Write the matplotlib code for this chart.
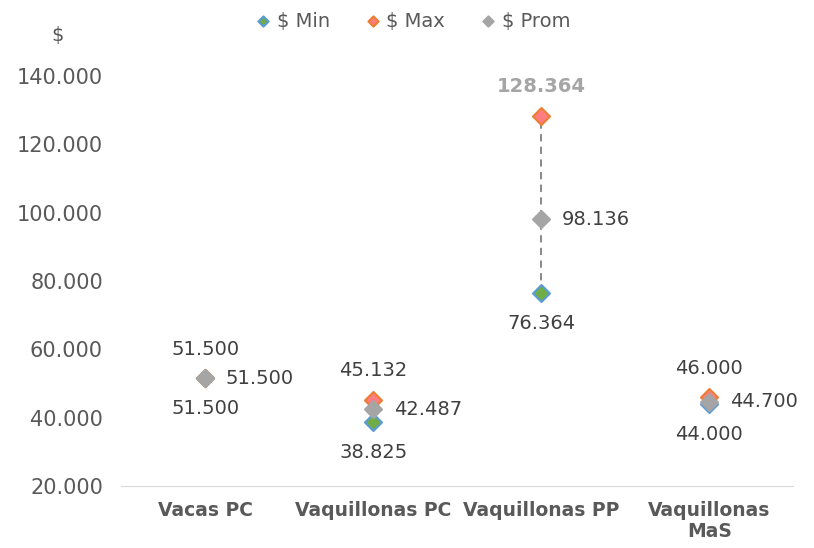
import matplotlib
matplotlib.use("Agg")
import matplotlib.pyplot as plt
from matplotlib.ticker import FuncFormatter

plt.rcParams['font.family'] = ['DejaVu Sans']

# datos
categorias = ["Vacas PC", "Vaquillonas PC", "Vaquillonas PP", "Vaquillonas\nMaS"]
precio_min = [51500, 38825, 76364, 44000]
precio_max = [51500, 45132, 128364, 46000]
precio_prom = [51500, 42487, 98136, 44700]

gris = '#595959'


def miles(v):
    return f"{v:,.0f}".replace(",", ".")


fig = plt.figure(figsize=(8.14, 5.48), dpi=100)
ax = fig.add_axes([0.1487, 0.1131, 0.826, 0.7482])

x = list(range(len(categorias)))

# lineas max-min
ax.vlines(x, precio_min, precio_max, colors='#7f7f7f', linestyles=(0, (4, 3)), linewidth=1.3, zorder=1)

ax.scatter(x, precio_min, marker='D', s=75, facecolor='#70AD47', edgecolor='#5B9BD5', linewidth=1.5,
           zorder=3, label='$ Min')
ax.scatter(x, precio_max, marker='D', s=75, facecolor='#FF7C80', edgecolor='#ED7D31', linewidth=1.5,
           zorder=3, label='$ Max')
ax.scatter(x, precio_prom, marker='D', s=75, facecolor='#A5A5A5', edgecolor='#A5A5A5', linewidth=1.5,
           zorder=4, label='$ Prom')

for i in x:
    ax.annotate(miles(precio_min[i]), (i, precio_min[i]), xytext=(0, -22), textcoords='offset points',
                ha='center', va='center', fontsize=14, color='#404040')
    destacado = precio_max[i] > 100000
    ax.annotate(miles(precio_max[i]), (i, precio_max[i]), xytext=(0, 21), textcoords='offset points',
                ha='center', va='center', fontsize=14,
                color='#A5A5A5' if destacado else '#404040',
                fontweight='bold' if destacado else 'normal', annotation_clip=False)
    ax.annotate(miles(precio_prom[i]), (i, precio_prom[i]), xytext=(15, 0), textcoords='offset points',
                ha='left', va='center', fontsize=14, color='#404040')

ax.set_xlim(-0.5, len(categorias) - 0.5)
ax.set_ylim(20000, 140000)
ax.set_yticks(range(20000, 140001, 20000))
ax.yaxis.set_major_formatter(FuncFormatter(lambda v, p: miles(v)))
ax.set_xticks(x)
ax.set_xticklabels(categorias, fontweight='bold', fontsize=13.5, color=gris, linespacing=1.1)
ax.tick_params(axis='y', length=0, labelsize=15, labelcolor=gris, pad=13)
ax.tick_params(axis='x', length=0, pad=11)
for lado in ['top', 'right', 'left']:
    ax.spines[lado].set_visible(False)
ax.spines['bottom'].set_color('#d9d9d9')

fig.text(58 / 814, 1 - 36 / 548, '$', fontsize=14, color=gris, ha='center', va='center')

ax.legend(loc='center', bbox_to_anchor=(0.5, 1 - 21 / 548), bbox_transform=fig.transFigure, ncol=3,
          frameon=False, fontsize=14, labelcolor=gris, handletextpad=-0.3, columnspacing=1.2,
          markerscale=0.6, borderaxespad=0)

plt.savefig("out.png", dpi=100, facecolor='white')
